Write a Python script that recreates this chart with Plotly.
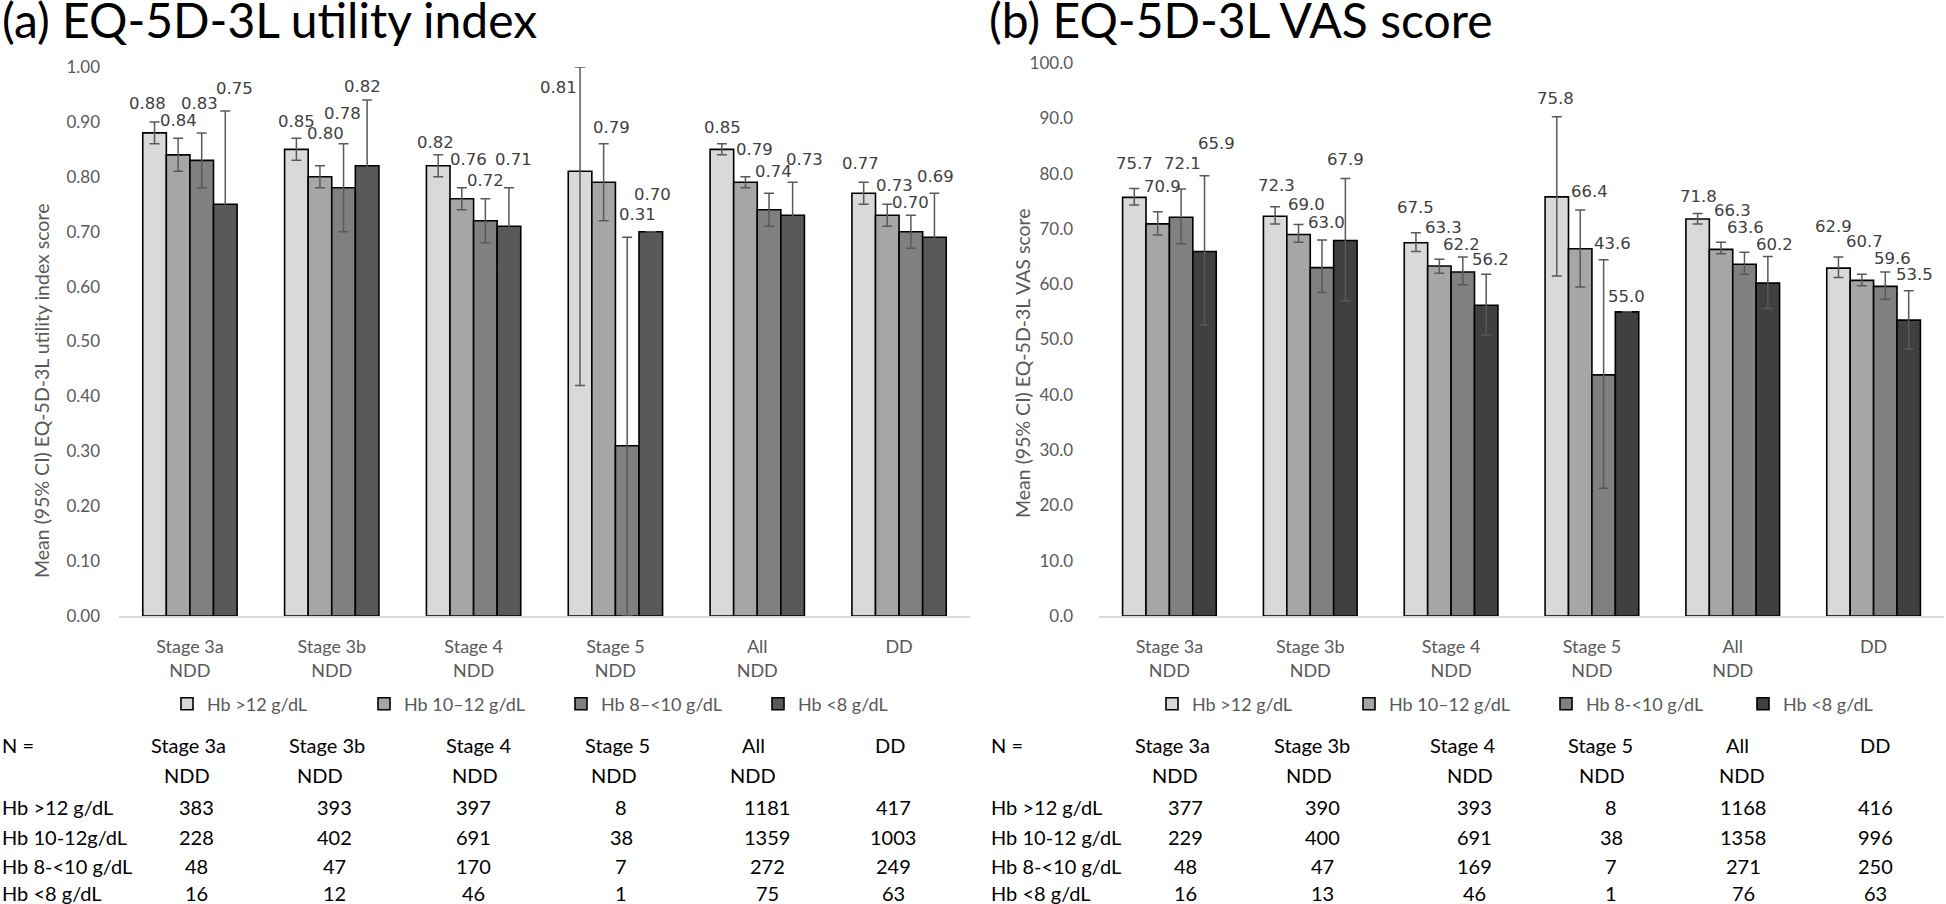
import plotly.graph_objects as go

CATEGORIES = ["Stage 3a<br>NDD", "Stage 3b<br>NDD", "Stage 4<br>NDD", "Stage 5<br>NDD", "All<br>NDD", "DD"]
HB_UTIL = ["Hb >12 g/dL", "Hb 10\u201312 g/dL", "Hb 8\u2013<10 g/dL", "Hb <8 g/dL"]
HB_VAS = ["Hb >12 g/dL", "Hb 10\u201312 g/dL", "Hb 8-<10 g/dL", "Hb <8 g/dL"]

# (a) utility index: mean, lower CI, upper CI
UTIL_GT12 = [0.88, 0.85, 0.82, 0.81, 0.85, 0.77]
UTIL_GT12_LO = [0.86, 0.83, 0.80, 0.42, 0.84, 0.75]
UTIL_GT12_HI = [0.90, 0.87, 0.84, 1.00, 0.86, 0.79]
UTIL_10_12 = [0.84, 0.80, 0.76, 0.79, 0.79, 0.73]
UTIL_10_12_LO = [0.81, 0.78, 0.74, 0.72, 0.78, 0.71]
UTIL_10_12_HI = [0.87, 0.82, 0.78, 0.86, 0.80, 0.75]
UTIL_8_10 = [0.83, 0.78, 0.72, 0.31, 0.74, 0.70]
UTIL_8_10_LO = [0.78, 0.70, 0.68, 0.00, 0.71, 0.67]
UTIL_8_10_HI = [0.88, 0.86, 0.76, 0.69, 0.77, 0.73]
UTIL_LT8 = [0.75, 0.82, 0.71, 0.70, 0.73, 0.69]
UTIL_LT8_LO = [0.58, 0.70, 0.64, None, 0.67, 0.61]
UTIL_LT8_HI = [0.92, 0.94, 0.78, None, 0.79, 0.77]

# (b) VAS score
VAS_GT12 = [75.7, 72.3, 67.5, 75.8, 71.8, 62.9]
VAS_GT12_LO = [74.3, 70.9, 65.9, 61.5, 70.9, 61.2]
VAS_GT12_HI = [77.3, 74.0, 69.3, 90.3, 72.8, 64.9]
VAS_10_12 = [70.9, 69.0, 63.3, 66.4, 66.3, 60.7]
VAS_10_12_LO = [68.9, 67.6, 62.0, 59.5, 65.5, 59.7]
VAS_10_12_HI = [73.1, 70.8, 64.5, 73.4, 67.6, 61.8]
VAS_8_10 = [72.1, 63.0, 62.2, 43.6, 63.6, 59.6]
VAS_8_10_LO = [67.3, 58.5, 59.9, 23.1, 61.8, 57.3]
VAS_8_10_HI = [77.2, 68.0, 64.9, 64.4, 65.8, 62.2]
VAS_LT8 = [65.9, 67.9, 56.2, 55.0, 60.2, 53.5]
VAS_LT8_LO = [52.6, 57.0, 50.8, None, 55.6, 48.3]
VAS_LT8_HI = [79.6, 79.1, 61.8, None, 65.0, 58.8]

# N tables
TABLE_HEAD = ["Stage 3a", "Stage 3b", "Stage 4", "Stage 5", "All", "DD"]
TABLE_SUB = ["NDD", "NDD", "NDD", "NDD", "NDD", ""]
ROWS_UTIL = ["Hb >12 g/dL", "Hb 10-12g/dL", "Hb 8-<10 g/dL", "Hb <8 g/dL"]
ROWS_VAS = ["Hb >12 g/dL", "Hb 10-12 g/dL", "Hb 8-<10 g/dL", "Hb <8 g/dL"]
N_UTIL_GT12 = [383, 393, 397, 8, 1181, 417]
N_UTIL_10_12 = [228, 402, 691, 38, 1359, 1003]
N_UTIL_8_10 = [48, 47, 170, 7, 272, 249]
N_UTIL_LT8 = [16, 12, 46, 1, 75, 63]
N_VAS_GT12 = [377, 390, 393, 8, 1168, 416]
N_VAS_10_12 = [229, 400, 691, 38, 1358, 996]
N_VAS_8_10 = [48, 47, 169, 7, 271, 250]
N_VAS_LT8 = [16, 13, 46, 1, 76, 63]

FW, FH = 1946, 904
FILLS_A = ["#D9D9D9", "#A6A6A6", "#808080", "#595959"]
FILLS_B = ["#D9D9D9", "#A6A6A6", "#808080", "#404040"]
GREY = "#595959"
FONT = "Lato, sans-serif"


def X(p):
    return p / FW


def Y(p):
    return 1 - p / FH


# data-label placement: (x shift px from group centre, y in axis units)
LBL_A = [
    [(-42, 0.933), (-35, 0.900), (-38, 0.863), (-57, 0.962), (-35, 0.889), (-39, 0.825)],
    [(-11, 0.903), (-6, 0.878), (-5, 0.831), (-4, 0.889), (-3, 0.849), (-5, 0.785)],
    [(10, 0.933), (11, 0.915), (12, 0.794), (22, 0.732), (16, 0.809), (11, 0.754)],
    [(45, 0.960), (31, 0.965), (40, 0.832), (37, 0.767), (47, 0.831), (36, 0.801)],
]
LBL_B = [
    [(-35, 81.9), (-34, 77.8), (-36, 73.8), (-36, 93.5), (-34, 75.8), (-40, 70.5)],
    [(-7, 77.6), (-4, 74.5), (-8, 70.3), (-2, 76.8), (0, 73.4), (-9, 67.8)],
    [(13, 81.9), (16, 71.2), (10, 67.1), (21, 67.4), (13, 70.3), (19, 64.7)],
    [(47, 85.4), (35, 82.6), (39, 64.4), (35, 57.7), (42, 67.1), (41, 61.8)],
]


def err(mean, lo, hi):
    plus = [None if h is None else round(h - m, 3) for m, h in zip(mean, hi)]
    minus = [None if l is None else round(m - l, 3) for m, l in zip(mean, lo)]
    return dict(type="data", symmetric=False, array=plus, arrayminus=minus,
                color=GREY, thickness=1.5, width=5)


fig = go.Figure()

util = [(UTIL_GT12, UTIL_GT12_LO, UTIL_GT12_HI), (UTIL_10_12, UTIL_10_12_LO, UTIL_10_12_HI),
        (UTIL_8_10, UTIL_8_10_LO, UTIL_8_10_HI), (UTIL_LT8, UTIL_LT8_LO, UTIL_LT8_HI)]
vas = [(VAS_GT12, VAS_GT12_LO, VAS_GT12_HI), (VAS_10_12, VAS_10_12_LO, VAS_10_12_HI),
       (VAS_8_10, VAS_8_10_LO, VAS_8_10_HI), (VAS_LT8, VAS_LT8_LO, VAS_LT8_HI)]

for i, (m, lo, hi) in enumerate(util):
    fig.add_trace(go.Bar(x=CATEGORIES, y=m, name=HB_UTIL[i], xaxis="x", yaxis="y",
                         marker=dict(color=FILLS_A[i], line=dict(color="black", width=1.6)),
                         error_y=err(m, lo, hi), legend="legend"))
for i, (m, lo, hi) in enumerate(vas):
    fig.add_trace(go.Bar(x=CATEGORIES, y=m, name=HB_VAS[i], xaxis="x2", yaxis="y2",
                         marker=dict(color=FILLS_B[i], line=dict(color="black", width=1.6)),
                         error_y=err(m, lo, hi), legend="legend2"))

ann = []
LBL_FONT = dict(family="DejaVu Sans", size=16.5, color="#404040")
for i, (m, _, _) in enumerate(util):
    for j, v in enumerate(m):
        dx, ly = LBL_A[i][j]
        ann.append(dict(x=CATEGORIES[j], y=ly, xref="x", yref="y", xshift=dx, text=f"{v:.2f}",
                        showarrow=False, font=LBL_FONT))
for i, (m, _, _) in enumerate(vas):
    for j, v in enumerate(m):
        dx, ly = LBL_B[i][j]
        ann.append(dict(x=CATEGORIES[j], y=ly, xref="x2", yref="y2", xshift=dx, text=f"{v:.1f}",
                        showarrow=False, font=LBL_FONT))


def px(xp, yp, text, size=20, color="black", xanchor="center", angle=0, yanchor="middle"):
    ann.append(dict(x=X(xp), y=Y(yp), xref="paper", yref="paper", text=text,
                    showarrow=False, xanchor=xanchor, yanchor=yanchor, textangle=angle,
                    font=dict(family=FONT, size=size, color=color)))


# titles
px(0, -11, "(a) EQ-5D-3L utility index", size=48, xanchor="left", yanchor="top")
px(987, -11, "(b) EQ-5D-3L VAS score", size=48, xanchor="left", yanchor="top")
# y axis titles
px(41, 391, "Mean (95% CI) EQ-5D-3L utility index score", size=19.5, color=GREY, angle=-90)
px(1022, 363, "Mean (95% CI) EQ-5D-3L VAS score", size=19.5, color=GREY, angle=-90)

# N tables
ROW_Y = [807, 837, 866, 893]
tables = [
    (0, ROWS_UTIL, [N_UTIL_GT12, N_UTIL_10_12, N_UTIL_8_10, N_UTIL_LT8],
     [188, 327, 478, 617, 753, 890], [187, 320, 475, 614, 753, 890], [196, 334, 473, 621, 767, 893]),
    (989, ROWS_VAS, [N_VAS_GT12, N_VAS_10_12, N_VAS_8_10, N_VAS_LT8],
     [1172, 1312, 1462, 1600, 1737, 1875], [1175, 1309, 1470, 1602, 1742, 1875],
     [1185, 1322, 1474, 1611, 1743, 1875]),
]
for x0, rows, counts, hx, sx, nx in tables:
    px(x0, 745, "N =", xanchor="left")
    for j, h in enumerate(TABLE_HEAD):
        px(hx[j], 745, h)
        if TABLE_SUB[j]:
            px(sx[j], 775, TABLE_SUB[j])
    for r, lab in enumerate(rows):
        px(x0, ROW_Y[r], lab, xanchor="left")
        for j, n in enumerate(counts[r]):
            px(nx[j], ROW_Y[r], str(n))

xa = dict(showline=True, linecolor="#D9D9D9", linewidth=1.5, showgrid=False, zeroline=False,
          ticks="", tickfont=dict(family=FONT, size=18, color=GREY), ticklabelstandoff=14,
          automargin=False)
ya = dict(showline=False, showgrid=False, zeroline=False, ticks="", automargin=False,
          tickfont=dict(family=FONT, size=17, color=GREY))

legend_common = dict(orientation="h", yanchor="middle", xanchor="left", bgcolor="rgba(0,0,0,0)",
                     font=dict(family=FONT, size=18, color=GREY), entrywidth=152, itemwidth=30,
                     traceorder="normal")

fig.update_layout(
    width=FW, height=FH, margin=dict(l=0, r=0, t=0, b=0, autoexpand=False),
    paper_bgcolor="white", plot_bgcolor="white",
    barmode="group", bargap=0.335, bargroupgap=0,
    font=dict(family=FONT, color=GREY),
    xaxis=dict(domain=[X(119), X(970)], anchor="y", **xa),
    yaxis=dict(domain=[Y(616), Y(67)], anchor="x", range=[0, 1], dtick=0.1,
               tickformat=".2f", ticklabelstandoff=18, **ya),
    xaxis2=dict(domain=[X(1099), X(1944)], anchor="y2", **xa),
    yaxis2=dict(domain=[Y(616), Y(63)], anchor="x2", range=[0, 100], dtick=10,
                tickformat=".1f", ticklabelstandoff=25, **ya),
    legend=dict(x=X(167), y=Y(704), **legend_common),
    legend2=dict(x=X(1152), y=Y(704), **legend_common),
    annotations=ann,
    showlegend=True,
)

# drop the default 8px page margin so the figure fills the window exactly
fig.write_html("out.html", config={"displayModeBar": False},
               post_script="document.body.style.margin='0';document.body.style.overflow='hidden';")
